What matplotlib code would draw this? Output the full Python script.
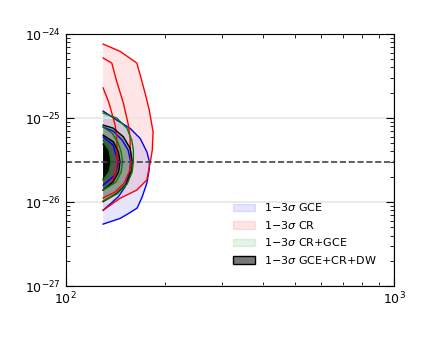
import matplotlib
matplotlib.use("Agg")
import matplotlib.pyplot as plt
from matplotlib.patches import Patch
from matplotlib.ticker import NullFormatter

# contour data: dark matter mass [GeV] and <sigma v> [cm^3/s]
gce_m = [[130, 139.4, 144.4, 141.4, 130],
         [130, 139.4, 148.5, 154.9, 157.6, 156.5, 151.6, 144.7, 136.5, 130],
         [130, 143.0, 157.1, 168.5, 176.6, 179.9, 179.5, 176.6, 170.9, 165.0, 155.2, 146.4, 130]]
gce_sv = [[5.94e-26, 4.77e-26, 3.02e-26, 2.1e-26, 1.59e-26],
          [7.81e-26, 7.0e-26, 5.47e-26, 4.16e-26, 3.02e-26, 2.28e-26, 1.52e-26, 1.16e-26, 9.47e-27, 8.0e-27],
          [1.21e-25, 9.46e-26, 7.54e-26, 5.73e-26, 3.97e-26, 3.02e-26, 2.40e-26, 1.68e-26, 1.15e-26, 8.49e-27, 7.3e-27, 6.39e-27, 5.47e-27]]

cr_m = [[130, 134.9, 136.5, 141.4, 142.8, 143.3, 143.3, 141.4, 136.5, 130],
        [130, 138.1, 143.0, 149.8, 155.2, 157.1, 157.1, 157.6, 158.2, 156.0, 150.6, 141.4, 130],
        [130, 146.4, 164.6, 168.5, 175.0, 179.5, 184.5, 183.5, 181.0, 176.6, 164.6, 146.4, 130]]
cr_sv = [[2.28e-25, 1.58e-25, 1.36e-25, 8.25e-26, 6.28e-26, 4.4e-26, 2.99e-26, 2.1e-26, 1.59e-26, 1.39e-26],
         [5.18e-25, 4.52e-25, 2.73e-25, 1.51e-25, 8.25e-26, 5.78e-26, 4.40e-26, 3.63e-26, 2.99e-26, 2.28e-26, 1.68e-26, 1.32e-26, 1.12e-26],
         [7.6e-25, 6.22e-25, 4.52e-25, 3.28e-25, 1.89e-25, 1.26e-25, 6.87e-26, 4.16e-26, 3.02e-26, 1.83e-26, 1.39e-26, 1.11e-26, 8.0e-27]]

crgce_m = [[130, 135.5, 137.5, 135.5, 130],
           [130, 138.4, 144.4, 147.5, 149.0, 147.5, 142.3, 130],
           [130, 143.0, 153.5, 158.9, 160.7, 160.7, 159.3, 153.8, 143.3, 130]]
crgce_sv = [[5.47e-26, 4.16e-26, 3.02e-26, 2.28e-26, 1.83e-26],
            [7.81e-26, 6.63e-26, 5.04e-26, 3.94e-26, 3.02e-26, 2.28e-26, 1.73e-26, 1.39e-26],
            [1.15e-25, 1.0e-25, 7.6e-26, 5.47e-26, 4.16e-26, 3.02e-26, 2.28e-26, 1.64e-26, 1.25e-26, 1.03e-26]]

dw_m = [[130, 134.9, 136.5, 135.1, 130],
        [130, 139.7, 144.7, 146.4, 144.9, 139.4, 130],
        [130, 139.4, 149.8, 157.1, 159.6, 158.9, 153.5, 143.0, 130]]
dw_sv = [[4.9e-26, 3.97e-26, 3.02e-26, 2.40e-26, 1.87e-26],
         [6.28e-26, 5.22e-26, 3.97e-26, 3.02e-26, 2.28e-26, 1.73e-26, 1.39e-26],
         [8.25e-26, 7.6e-26, 5.99e-26, 4.36e-26, 3.02e-26, 2.40e-26, 1.67e-26, 1.27e-26, 1.01e-26]]
dw_colors = ['black', '#555555', '#9e9e9e']

thermal_sv = 3e-26
labels = [r'1$-$3$\sigma$ GCE', r'1$-$3$\sigma$ CR', r'1$-$3$\sigma$ CR+GCE',
          r'1$-$3$\sigma$ GCE+CR+DW']

fig = plt.figure(figsize=(4.38, 3.37), dpi=100)
ax = fig.add_axes([0.15, 0.151, 0.75, 0.748])
ax.set_xscale('log')
ax.set_yscale('log')

# GCE
ax.fill(gce_m[2], gce_sv[2], color='blue', alpha=0.1, lw=0)
for m, sv in zip(gce_m, gce_sv):
    ax.plot(m, sv, color='blue', lw=1)

# CR
ax.fill(cr_m[2], cr_sv[2], color='red', alpha=0.1, lw=0)
for m, sv in zip(cr_m, cr_sv):
    ax.plot(m, sv, color='red', lw=1)

# GCE+CR+DW (opaque greys)
for m, sv, c in reversed(list(zip(dw_m, dw_sv, dw_colors))):
    ax.fill(m, sv, color=c, lw=0)
    ax.plot(m, sv, color='black', lw=1)

# CR+GCE
ax.fill(crgce_m[2], crgce_sv[2], color='green', alpha=0.08, lw=0)
for m, sv in zip(crgce_m, crgce_sv):
    ax.plot(m, sv, color='green', lw=1)

ax.axhline(thermal_sv, color='#444444', ls='--', lw=1.2)

ax.set_xlim(100, 1000)
ax.set_ylim(1e-27, 1e-24)
ax.xaxis.set_minor_formatter(NullFormatter())
ax.yaxis.set_minor_formatter(NullFormatter())
ax.grid(True, which='major', color='#e6e6e6', lw=1.2)
ax.tick_params(which='both', direction='in', top=True, right=True, labelsize=9)
ax.tick_params(which='major', length=6)
ax.tick_params(which='minor', length=3)

handles = [Patch(facecolor='blue', edgecolor='blue', alpha=0.1),
           Patch(facecolor='red', edgecolor='red', alpha=0.1),
           Patch(facecolor='green', edgecolor='green', alpha=0.1),
           Patch(facecolor='#777777', edgecolor='black')]
ax.legend(handles, labels, loc='upper left', bbox_to_anchor=(0.478, 0.376),
          frameon=False, fontsize=8)

fig.savefig('out.png', dpi=100)
